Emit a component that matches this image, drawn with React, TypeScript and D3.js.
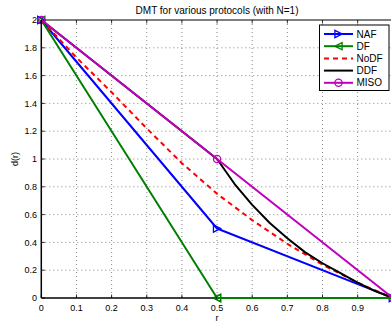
import React from "react";
import * as d3 from "d3";

const title = "DMT for various protocols (with N=1)";
const xTicks = [0, 0.1, 0.2, 0.3, 0.4, 0.5, 0.6, 0.7, 0.8, 0.9, 1];
const yTicks = [0, 0.2, 0.4, 0.6, 0.8, 1, 1.2, 1.4, 1.6, 1.8, 2];

const nafR = [0, 0.5, 1];
const nafD = [2, 0.5, 0];
const dfR = [0, 0.5, 1];
const dfD = [2, 0, 0];
const nodfR = [0, 0.1, 0.2, 0.3, 0.4, 0.5, 0.6, 0.7, 0.8, 0.9, 1];
const nodfD = [2, 1.73, 1.48, 1.22, 0.97, 0.75, 0.56, 0.39, 0.24, 0.11, 0];
const ddfR = [0, 0.5, 0.55, 0.6, 0.65, 0.7, 0.75, 0.8, 0.85, 0.9, 0.95, 1];
const ddfD = [2, 1, 0.82, 0.67, 0.54, 0.43, 0.33, 0.25, 0.18, 0.11, 0.05, 0];
const misoR = [0, 0.5, 1];
const misoD = [2, 1, 0];

const W = 391;
const H = 324;
const left = 41.3;
const right = 392.8;
const top = 20;
const bottom = 298;

const x = d3.scaleLinear().domain([0, 1]).range([left, right]);
const y = d3.scaleLinear().domain([0, 2]).range([bottom, top]);

type Series = {
  name: string;
  r: number[];
  d: number[];
  color: string;
  dash?: string;
  marker?: "right" | "left" | "circle";
};

const series: Series[] = [
  { name: "NAF", r: nafR, d: nafD, color: "#0000ff", marker: "right" },
  { name: "DF", r: dfR, d: dfD, color: "#008000", marker: "left" },
  { name: "NoDF", r: nodfR, d: nodfD, color: "#ff0000", dash: "5,4" },
  { name: "DDF", r: ddfR, d: ddfD, color: "#000000" },
  { name: "MISO", r: misoR, d: misoD, color: "#bf00bf", marker: "circle" },
];

function Marker({ type, cx, cy, color }: { type: string; cx: number; cy: number; color: string }) {
  const s = 3.6;
  if (type === "circle") {
    return <circle cx={cx} cy={cy} r={3.6} fill="none" stroke={color} strokeWidth={1.3} />;
  }
  const pts =
    type === "right"
      ? [[cx - s, cy - s], [cx - s, cy + s], [cx + s, cy]]
      : [[cx + s, cy - s], [cx + s, cy + s], [cx - s, cy]];
  return <polygon points={pts.map((p) => p.join(",")).join(" ")} fill="none" stroke={color} strokeWidth={1.3} />;
}

export default function App() {
  const fontFamily = "'Liberation Sans', Arial, Helvetica, sans-serif";
  const legendX = 319.5;
  const legendY = 25;
  const legendW = 69.5;
  const legendH = 65.5;
  const rowH = 12.2;
  const line = d3.line();

  return (
    <svg
      width={W}
      height={H}
      style={{ position: "absolute", left: 0, top: 0, background: "#fff" }}
      fontFamily={fontFamily}
    >
      <rect x={0} y={0} width={W} height={H} fill="#fff" />
      <defs>
        <clipPath id="plotclip">
          <rect x={left - 6} y={top - 6} width={right - left + 12} height={bottom - top + 12} />
        </clipPath>
      </defs>
      {/* grid */}
      {xTicks.slice(1, -1).map((t) => (
        <line key={"gx" + t} x1={x(t)} x2={x(t)} y1={top} y2={bottom} stroke="#555" strokeWidth={0.7} strokeDasharray="1,3" />
      ))}
      {yTicks.slice(1, -1).map((t) => (
        <line key={"gy" + t} x1={left} x2={right} y1={y(t)} y2={y(t)} stroke="#555" strokeWidth={0.7} strokeDasharray="1,3" />
      ))}
      {/* axes box */}
      <line x1={left} x2={right} y1={top} y2={top} stroke="#000" strokeWidth={1} />
      <line x1={right} x2={right} y1={top} y2={bottom} stroke="#000" strokeWidth={1} />
      {/* ticks */}
      {xTicks.map((t) => (
        <g key={"tx" + t}>
          <line x1={x(t)} x2={x(t)} y1={bottom} y2={bottom - 3.5} stroke="#000" strokeWidth={0.8} />
          <line x1={x(t)} x2={x(t)} y1={top} y2={top + 3.5} stroke="#000" strokeWidth={0.8} />
          {x(t) + 3 < W && (
            <text x={x(t)} y={310.5} fontSize={9} textAnchor="middle" fill="#000">
              {String(t)}
            </text>
          )}
        </g>
      ))}
      {yTicks.map((t) => (
        <g key={"ty" + t}>
          <line x1={left} x2={left + 3.5} y1={y(t)} y2={y(t)} stroke="#000" strokeWidth={0.8} />
          <text x={37} y={y(t) + 3.2} fontSize={9} textAnchor="end" fill="#000">
            {String(t)}
          </text>
        </g>
      ))}
      {/* series */}
      <g clipPath="url(#plotclip)">
        {series.map((s) => {
          const pts: [number, number][] = s.r.map((r, i) => [x(r), y(s.d[i])]);
          return (
            <g key={s.name}>
              <path d={line(pts) || ""} fill="none" stroke={s.color} strokeWidth={2} strokeDasharray={s.dash} strokeLinejoin="round" />
              {s.marker &&
                pts.map((p, i) => <Marker key={i} type={s.marker!} cx={p[0]} cy={p[1]} color={s.color} />)}
            </g>
          );
        })}
      </g>
      <line x1={left} x2={left} y1={top} y2={bottom} stroke="#000" strokeWidth={1.5} />
      <line x1={left} x2={right} y1={bottom} y2={bottom} stroke="#000" strokeWidth={1.5} />
      {/* redraw DF bottom segment above axis */}
      <line x1={x(dfR[1])} x2={x(dfR[2])} y1={y(dfD[1])} y2={y(dfD[2])} stroke="#008000" strokeWidth={2} />
      <Marker type="left" cx={x(dfR[1])} cy={y(dfD[1])} color="#008000" />
      {/* title & labels */}
      <text x={(left + right) / 2} y={13.5} fontSize={10} textAnchor="middle" fill="#000">
        {title}
      </text>
      <text x={(left + right) / 2} y={321} fontSize={9} textAnchor="middle" fill="#000">
        r
      </text>
      <text
        transform={`translate(18,${(top + bottom) / 2}) rotate(-90)`}
        fontSize={9}
        textAnchor="middle"
        fill="#000"
      >
        d(r)
      </text>
      {/* legend */}
      <rect x={legendX} y={legendY} width={legendW} height={legendH} fill="#fff" stroke="#000" strokeWidth={1} />
      {series.map((s, i) => {
        const ly = legendY + 9 + i * rowH;
        return (
          <g key={"lg" + s.name}>
            <line x1={324} x2={353} y1={ly} y2={ly} stroke={s.color} strokeWidth={2} strokeDasharray={s.dash} />
            {s.marker && <Marker type={s.marker} cx={338.5} cy={ly} color={s.color} />}
            <text x={356.5} y={ly + 3.5} fontSize={10} fill="#000">
              {s.name}
            </text>
          </g>
        );
      })}
    </svg>
  );
}
